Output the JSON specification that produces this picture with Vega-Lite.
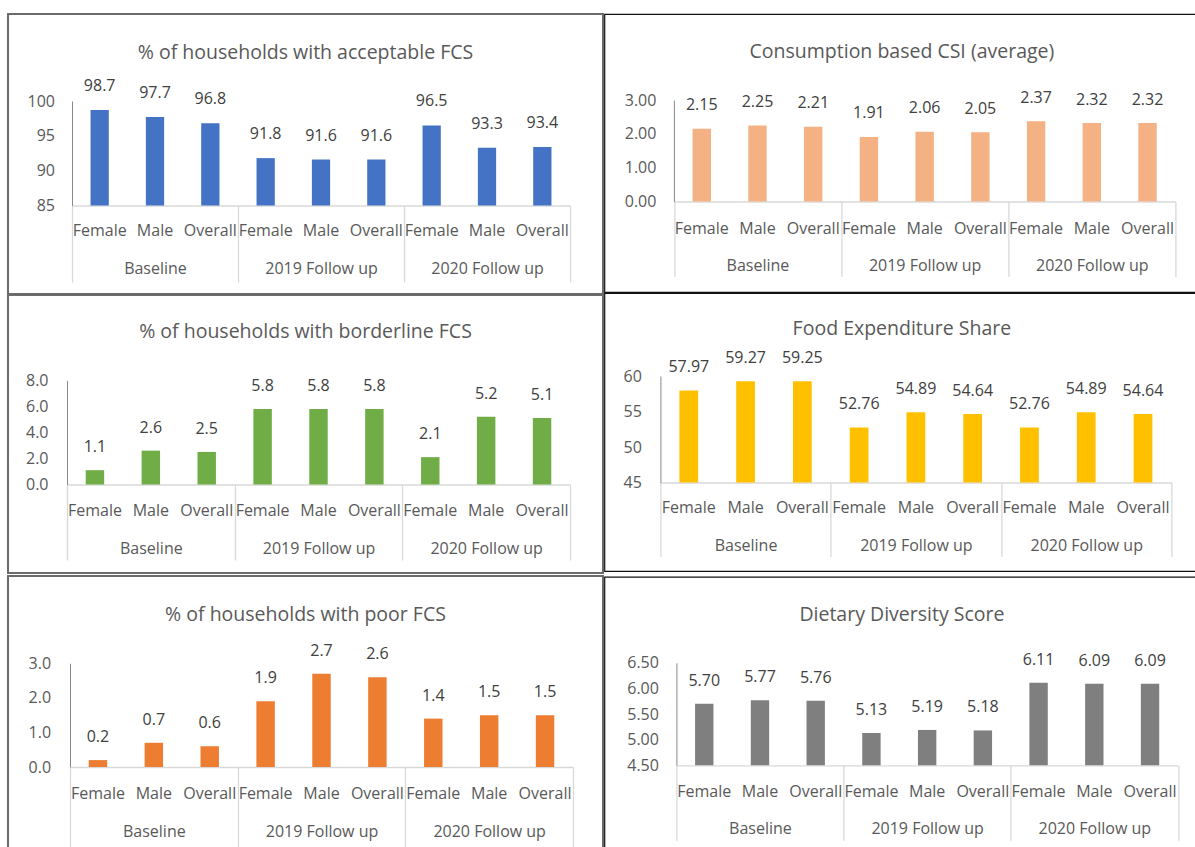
{
  "$schema": "https://vega.github.io/schema/vega-lite/v6.json",
  "padding": {"left": 7, "top": 13, "right": 0, "bottom": 0},
  "background": "white",
  "datasets": {
    "indicators": [
      {"ind": "acceptable", "round": "Baseline", "sex": "Female", "bar": "Baseline|Female", "value": 98.7},
      {"ind": "acceptable", "round": "Baseline", "sex": "Male", "bar": "Baseline|Male", "value": 97.7},
      {"ind": "acceptable", "round": "Baseline", "sex": "Overall", "bar": "Baseline|Overall", "value": 96.8},
      {"ind": "acceptable", "round": "2019 Follow up", "sex": "Female", "bar": "2019 Follow up|Female", "value": 91.8},
      {"ind": "acceptable", "round": "2019 Follow up", "sex": "Male", "bar": "2019 Follow up|Male", "value": 91.6},
      {"ind": "acceptable", "round": "2019 Follow up", "sex": "Overall", "bar": "2019 Follow up|Overall", "value": 91.6},
      {"ind": "acceptable", "round": "2020 Follow up", "sex": "Female", "bar": "2020 Follow up|Female", "value": 96.5},
      {"ind": "acceptable", "round": "2020 Follow up", "sex": "Male", "bar": "2020 Follow up|Male", "value": 93.3},
      {"ind": "acceptable", "round": "2020 Follow up", "sex": "Overall", "bar": "2020 Follow up|Overall", "value": 93.4},

      {"ind": "csi", "round": "Baseline", "sex": "Female", "bar": "Baseline|Female", "value": 2.15},
      {"ind": "csi", "round": "Baseline", "sex": "Male", "bar": "Baseline|Male", "value": 2.25},
      {"ind": "csi", "round": "Baseline", "sex": "Overall", "bar": "Baseline|Overall", "value": 2.21},
      {"ind": "csi", "round": "2019 Follow up", "sex": "Female", "bar": "2019 Follow up|Female", "value": 1.91},
      {"ind": "csi", "round": "2019 Follow up", "sex": "Male", "bar": "2019 Follow up|Male", "value": 2.06},
      {"ind": "csi", "round": "2019 Follow up", "sex": "Overall", "bar": "2019 Follow up|Overall", "value": 2.05},
      {"ind": "csi", "round": "2020 Follow up", "sex": "Female", "bar": "2020 Follow up|Female", "value": 2.37},
      {"ind": "csi", "round": "2020 Follow up", "sex": "Male", "bar": "2020 Follow up|Male", "value": 2.32},
      {"ind": "csi", "round": "2020 Follow up", "sex": "Overall", "bar": "2020 Follow up|Overall", "value": 2.32},

      {"ind": "borderline", "round": "Baseline", "sex": "Female", "bar": "Baseline|Female", "value": 1.1},
      {"ind": "borderline", "round": "Baseline", "sex": "Male", "bar": "Baseline|Male", "value": 2.6},
      {"ind": "borderline", "round": "Baseline", "sex": "Overall", "bar": "Baseline|Overall", "value": 2.5},
      {"ind": "borderline", "round": "2019 Follow up", "sex": "Female", "bar": "2019 Follow up|Female", "value": 5.8},
      {"ind": "borderline", "round": "2019 Follow up", "sex": "Male", "bar": "2019 Follow up|Male", "value": 5.8},
      {"ind": "borderline", "round": "2019 Follow up", "sex": "Overall", "bar": "2019 Follow up|Overall", "value": 5.8},
      {"ind": "borderline", "round": "2020 Follow up", "sex": "Female", "bar": "2020 Follow up|Female", "value": 2.1},
      {"ind": "borderline", "round": "2020 Follow up", "sex": "Male", "bar": "2020 Follow up|Male", "value": 5.2},
      {"ind": "borderline", "round": "2020 Follow up", "sex": "Overall", "bar": "2020 Follow up|Overall", "value": 5.1},

      {"ind": "fes", "round": "Baseline", "sex": "Female", "bar": "Baseline|Female", "value": 57.97},
      {"ind": "fes", "round": "Baseline", "sex": "Male", "bar": "Baseline|Male", "value": 59.27},
      {"ind": "fes", "round": "Baseline", "sex": "Overall", "bar": "Baseline|Overall", "value": 59.25},
      {"ind": "fes", "round": "2019 Follow up", "sex": "Female", "bar": "2019 Follow up|Female", "value": 52.76},
      {"ind": "fes", "round": "2019 Follow up", "sex": "Male", "bar": "2019 Follow up|Male", "value": 54.89},
      {"ind": "fes", "round": "2019 Follow up", "sex": "Overall", "bar": "2019 Follow up|Overall", "value": 54.64},
      {"ind": "fes", "round": "2020 Follow up", "sex": "Female", "bar": "2020 Follow up|Female", "value": 52.76},
      {"ind": "fes", "round": "2020 Follow up", "sex": "Male", "bar": "2020 Follow up|Male", "value": 54.89},
      {"ind": "fes", "round": "2020 Follow up", "sex": "Overall", "bar": "2020 Follow up|Overall", "value": 54.64},

      {"ind": "poor", "round": "Baseline", "sex": "Female", "bar": "Baseline|Female", "value": 0.2},
      {"ind": "poor", "round": "Baseline", "sex": "Male", "bar": "Baseline|Male", "value": 0.7},
      {"ind": "poor", "round": "Baseline", "sex": "Overall", "bar": "Baseline|Overall", "value": 0.6},
      {"ind": "poor", "round": "2019 Follow up", "sex": "Female", "bar": "2019 Follow up|Female", "value": 1.9},
      {"ind": "poor", "round": "2019 Follow up", "sex": "Male", "bar": "2019 Follow up|Male", "value": 2.7},
      {"ind": "poor", "round": "2019 Follow up", "sex": "Overall", "bar": "2019 Follow up|Overall", "value": 2.6},
      {"ind": "poor", "round": "2020 Follow up", "sex": "Female", "bar": "2020 Follow up|Female", "value": 1.4},
      {"ind": "poor", "round": "2020 Follow up", "sex": "Male", "bar": "2020 Follow up|Male", "value": 1.5},
      {"ind": "poor", "round": "2020 Follow up", "sex": "Overall", "bar": "2020 Follow up|Overall", "value": 1.5},

      {"ind": "dds", "round": "Baseline", "sex": "Female", "bar": "Baseline|Female", "value": 5.70},
      {"ind": "dds", "round": "Baseline", "sex": "Male", "bar": "Baseline|Male", "value": 5.77},
      {"ind": "dds", "round": "Baseline", "sex": "Overall", "bar": "Baseline|Overall", "value": 5.76},
      {"ind": "dds", "round": "2019 Follow up", "sex": "Female", "bar": "2019 Follow up|Female", "value": 5.13},
      {"ind": "dds", "round": "2019 Follow up", "sex": "Male", "bar": "2019 Follow up|Male", "value": 5.19},
      {"ind": "dds", "round": "2019 Follow up", "sex": "Overall", "bar": "2019 Follow up|Overall", "value": 5.18},
      {"ind": "dds", "round": "2020 Follow up", "sex": "Female", "bar": "2020 Follow up|Female", "value": 6.11},
      {"ind": "dds", "round": "2020 Follow up", "sex": "Male", "bar": "2020 Follow up|Male", "value": 6.09},
      {"ind": "dds", "round": "2020 Follow up", "sex": "Overall", "bar": "2020 Follow up|Overall", "value": 6.09}
    ]
  },
  "spacing": -0.6,
  "hconcat": [
    {
      "spacing": -2,
      "vconcat": [
        {
          "width": 595, "height": 280,
          "view": {"stroke": "#6b6b6b", "strokeWidth": 2},
          "title": {"text": "% of households with acceptable FCS", "offset": -49},
          "data": {"name": "indicators"},
          "transform": [{"filter": "datum.ind === 'acceptable'"}],
          "resolve": {"scale": {"x": "independent"}, "axis": {"x": "independent"}},
          "layer": [
            {
              "mark": {"type": "bar", "color": "#4472C4", "width": {"band": 0.33}},
              "encoding": {
                "x": {"field": "bar", "type": "nominal", "sort": null,
                      "scale": {"range": [64, 562], "paddingInner": 0, "paddingOuter": 0},
                      "axis": {"orient": "bottom", "offset": -88.5, "title": null, "labelExpr": "split(datum.label, '|')[1]", "labelAngle": 0, "labelPadding": 24.5, "labelBaseline": "middle", "ticks": false, "tickSize": 0, "domain": true, "domainColor": "#D9D9D9", "domainWidth": 1.3, "labelOverlap": false}},
                "y": {"field": "value", "type": "quantitative",
                      "scale": {"domain": [85, 100], "range": [191.5, 87], "zero": false, "nice": false},
                      "axis": {"orient": "left", "offset": -64, "title": null, "values": [85, 90, 95, 100], "format": "d", "labelPadding": 17.5, "ticks": false, "tickSize": 0}},
                "y2": {"datum": 85}
              }
            },
            {
              "mark": {"type": "text", "dy": -24, "fontSize": 16, "color": "#404040", "baseline": "middle"},
              "encoding": {
                "x": {"field": "bar", "type": "nominal", "sort": null, "scale": {"range": [64, 562], "paddingInner": 0, "paddingOuter": 0}, "axis": null},
                "y": {"field": "value", "type": "quantitative"},
                "text": {"field": "value", "format": ".1f"}
              }
            },
            {
              "mark": {"type": "point", "opacity": 0},
              "encoding": {
                "x": {"field": "round", "type": "nominal", "sort": null,
                      "scale": {"range": [64, 562], "paddingInner": 0, "paddingOuter": 0},
                      "axis": {"orient": "bottom", "offset": -88.5, "title": null, "labelAngle": 0, "ticks": true, "tickBand": "extent", "tickSize": 76.5, "tickColor": "#D9D9D9", "tickWidth": 1.3, "labelPadding": -14, "labelBaseline": "middle", "domain": false, "labelOverlap": false}}
              }
            }
          ]
        },
        {
          "spacing": 1,
          "vconcat": [
            {
              "width": 595, "height": 278,
              "view": {"stroke": "#6b6b6b", "strokeWidth": 2},
              "title": {"text": "% of households with borderline FCS", "offset": -47},
              "data": {"name": "indicators"},
              "transform": [{"filter": "datum.ind === 'borderline'"}],
              "resolve": {"scale": {"x": "independent"}, "axis": {"x": "independent"}},
              "layer": [
                {
                  "mark": {"type": "bar", "color": "#70AD47", "width": {"band": 0.33}},
                  "encoding": {
                    "x": {"field": "bar", "type": "nominal", "sort": null,
                          "scale": {"range": [59, 562], "paddingInner": 0, "paddingOuter": 0},
                          "axis": {"orient": "bottom", "offset": -88.5, "title": null, "labelExpr": "split(datum.label, '|')[1]", "labelAngle": 0, "labelPadding": 25.5, "labelBaseline": "middle", "ticks": false, "tickSize": 0, "domain": true, "domainColor": "#D9D9D9", "domainWidth": 1.3, "labelOverlap": false}},
                    "y": {"field": "value", "type": "quantitative",
                          "scale": {"domain": [0, 8], "range": [189.5, 85.3], "zero": false, "nice": false},
                          "axis": {"orient": "left", "offset": -59, "title": null, "values": [0, 2, 4, 6, 8], "format": ".1f", "labelPadding": 19, "ticks": false, "tickSize": 0}},
                    "y2": {"datum": 0}
                  }
                },
                {
                  "mark": {"type": "text", "dy": -23, "fontSize": 16, "color": "#404040", "baseline": "middle"},
                  "encoding": {
                    "x": {"field": "bar", "type": "nominal", "sort": null, "scale": {"range": [59, 562], "paddingInner": 0, "paddingOuter": 0}, "axis": null},
                    "y": {"field": "value", "type": "quantitative"},
                    "text": {"field": "value", "format": ".1f"}
                  }
                },
                {
                  "mark": {"type": "point", "opacity": 0},
                  "encoding": {
                    "x": {"field": "round", "type": "nominal", "sort": null,
                          "scale": {"range": [59, 562], "paddingInner": 0, "paddingOuter": 0},
                          "axis": {"orient": "bottom", "offset": -88.5, "title": null, "labelAngle": 0, "ticks": true, "tickBand": "extent", "tickSize": 75.5, "tickColor": "#D9D9D9", "tickWidth": 1.3, "labelPadding": -11.7, "labelBaseline": "middle", "domain": false, "labelOverlap": false}}
                  }
                }
              ]
            },
            {
              "width": 595, "height": 280,
              "view": {"stroke": "#6b6b6b", "strokeWidth": 2},
              "title": {"text": "% of households with poor FCS", "offset": -49},
              "data": {"name": "indicators"},
              "transform": [{"filter": "datum.ind === 'poor'"}],
              "resolve": {"scale": {"x": "independent"}, "axis": {"x": "independent"}},
              "layer": [
                {
                  "mark": {"type": "bar", "color": "#ED7D31", "width": {"band": 0.33}},
                  "encoding": {
                    "x": {"field": "bar", "type": "nominal", "sort": null,
                          "scale": {"range": [62, 565], "paddingInner": 0, "paddingOuter": 0},
                          "axis": {"orient": "bottom", "offset": -89, "title": null, "labelExpr": "split(datum.label, '|')[1]", "labelAngle": 0, "labelPadding": 26.3, "labelBaseline": "middle", "ticks": false, "tickSize": 0, "domain": true, "domainColor": "#D9D9D9", "domainWidth": 1.3, "labelOverlap": false}},
                    "y": {"field": "value", "type": "quantitative",
                          "scale": {"domain": [0, 3], "range": [191, 87.3], "zero": false, "nice": false},
                          "axis": {"orient": "left", "offset": -62, "title": null, "values": [0, 1, 2, 3], "format": ".1f", "labelPadding": 19.4, "ticks": false, "tickSize": 0}},
                    "y2": {"datum": 0}
                  }
                },
                {
                  "mark": {"type": "text", "dy": -23, "fontSize": 16, "color": "#404040", "baseline": "middle"},
                  "encoding": {
                    "x": {"field": "bar", "type": "nominal", "sort": null, "scale": {"range": [62, 565], "paddingInner": 0, "paddingOuter": 0}, "axis": null},
                    "y": {"field": "value", "type": "quantitative"},
                    "text": {"field": "value", "format": ".1f"}
                  }
                },
                {
                  "mark": {"type": "point", "opacity": 0},
                  "encoding": {
                    "x": {"field": "round", "type": "nominal", "sort": null,
                          "scale": {"range": [62, 565], "paddingInner": 0, "paddingOuter": 0},
                          "axis": {"orient": "bottom", "offset": -89, "title": null, "labelAngle": 0, "ticks": true, "tickBand": "extent", "tickSize": 85, "tickColor": "#D9D9D9", "tickWidth": 1.3, "labelPadding": -20.3, "labelBaseline": "middle", "domain": false, "labelOverlap": false}}
                  }
                }
              ]
            }
          ]
        }
      ]
    },
    {
      "spacing": -1.2,
      "vconcat": [
        {
          "width": 595, "height": 278,
          "view": {"stroke": "#111111", "strokeWidth": 1.2},
          "title": {"text": "Consumption based CSI (average)", "offset": -48.1},
          "data": {"name": "indicators"},
          "transform": [{"filter": "datum.ind === 'csi'"}],
          "resolve": {"scale": {"x": "independent"}, "axis": {"x": "independent"}},
          "layer": [
            {
              "mark": {"type": "bar", "color": "#F4B183", "width": {"band": 0.33}},
              "encoding": {
                "x": {"field": "bar", "type": "nominal", "sort": null,
                      "scale": {"range": [69.5, 571], "paddingInner": 0, "paddingOuter": 0},
                      "axis": {"orient": "bottom", "offset": -90.5, "title": null, "labelExpr": "split(datum.label, '|')[1]", "labelAngle": 0, "labelPadding": 26.5, "labelBaseline": "middle", "ticks": false, "tickSize": 0, "domain": true, "domainColor": "#D9D9D9", "domainWidth": 1.3, "labelOverlap": false}},
                "y": {"field": "value", "type": "quantitative",
                      "scale": {"domain": [0, 3], "range": [187.5, 86], "zero": false, "nice": false},
                      "axis": {"orient": "left", "offset": -69.5, "title": null, "values": [0, 1, 2, 3], "format": ".2f", "labelPadding": 18, "ticks": false, "tickSize": 0}},
                "y2": {"datum": 0}
              }
            },
            {
              "mark": {"type": "text", "dy": -23.5, "fontSize": 16, "color": "#404040", "baseline": "middle"},
              "encoding": {
                "x": {"field": "bar", "type": "nominal", "sort": null, "scale": {"range": [69.5, 571], "paddingInner": 0, "paddingOuter": 0}, "axis": null},
                "y": {"field": "value", "type": "quantitative"},
                "text": {"field": "value", "format": ".2f"}
              }
            },
            {
              "mark": {"type": "point", "opacity": 0},
              "encoding": {
                "x": {"field": "round", "type": "nominal", "sort": null,
                      "scale": {"range": [69.5, 571], "paddingInner": 0, "paddingOuter": 0},
                      "axis": {"orient": "bottom", "offset": -90.5, "title": null, "labelAngle": 0, "ticks": true, "tickBand": "extent", "tickSize": 75, "tickColor": "#D9D9D9", "tickWidth": 1.3, "labelPadding": -11, "labelBaseline": "middle", "domain": false, "labelOverlap": false}}
              }
            }
          ]
        },
        {
          "spacing": 3.8,
          "vconcat": [
            {
              "width": 595, "height": 278,
              "view": {"stroke": "#111111", "strokeWidth": 1.2},
              "title": {"text": "Food Expenditure Share", "offset": -46.3},
              "data": {"name": "indicators"},
              "transform": [{"filter": "datum.ind === 'fes'"}],
              "resolve": {"scale": {"x": "independent"}, "axis": {"x": "independent"}},
              "layer": [
                {
                  "mark": {"type": "bar", "color": "#FFC000", "width": {"band": 0.33}},
                  "encoding": {
                    "x": {"field": "bar", "type": "nominal", "sort": null,
                          "scale": {"range": [56, 567], "paddingInner": 0, "paddingOuter": 0},
                          "axis": {"orient": "bottom", "offset": -88.5, "title": null, "labelExpr": "split(datum.label, '|')[1]", "labelAngle": 0, "labelPadding": 24.5, "labelBaseline": "middle", "ticks": false, "tickSize": 0, "domain": true, "domainColor": "#D9D9D9", "domainWidth": 1.3, "labelOverlap": false}},
                    "y": {"field": "value", "type": "quantitative",
                          "scale": {"domain": [45, 60], "range": [189.5, 83], "zero": false, "nice": false},
                          "axis": {"orient": "left", "offset": -56, "title": null, "values": [45, 50, 55, 60], "format": "d", "labelPadding": 19, "ticks": false, "tickSize": 0}},
                    "y2": {"datum": 45}
                  }
                },
                {
                  "mark": {"type": "text", "dy": -23.5, "fontSize": 16, "color": "#404040", "baseline": "middle"},
                  "encoding": {
                    "x": {"field": "bar", "type": "nominal", "sort": null, "scale": {"range": [56, 567], "paddingInner": 0, "paddingOuter": 0}, "axis": null},
                    "y": {"field": "value", "type": "quantitative"},
                    "text": {"field": "value", "format": ".2f"}
                  }
                },
                {
                  "mark": {"type": "point", "opacity": 0},
                  "encoding": {
                    "x": {"field": "round", "type": "nominal", "sort": null,
                          "scale": {"range": [56, 567], "paddingInner": 0, "paddingOuter": 0},
                          "axis": {"orient": "bottom", "offset": -88.5, "title": null, "labelAngle": 0, "ticks": true, "tickBand": "extent", "tickSize": 74, "tickColor": "#D9D9D9", "tickWidth": 1.3, "labelPadding": -11.5, "labelBaseline": "middle", "domain": false, "labelOverlap": false}}
                  }
                }
              ]
            },
            {
              "width": 595, "height": 280,
              "view": {"stroke": "#111111", "strokeWidth": 1.2},
              "title": {"text": "Dietary Diversity Score", "offset": -48.3},
              "data": {"name": "indicators"},
              "transform": [{"filter": "datum.ind === 'dds'"}],
              "resolve": {"scale": {"x": "independent"}, "axis": {"x": "independent"}},
              "layer": [
                {
                  "mark": {"type": "bar", "color": "#7F7F7F", "width": {"band": 0.33}},
                  "encoding": {
                    "x": {"field": "bar", "type": "nominal", "sort": null,
                          "scale": {"range": [72, 573.5], "paddingInner": 0, "paddingOuter": 0},
                          "axis": {"orient": "bottom", "offset": -91.5, "title": null, "labelExpr": "split(datum.label, '|')[1]", "labelAngle": 0, "labelPadding": 25.8, "labelBaseline": "middle", "ticks": false, "tickSize": 0, "domain": true, "domainColor": "#D9D9D9", "domainWidth": 1.3, "labelOverlap": false}},
                    "y": {"field": "value", "type": "quantitative",
                          "scale": {"domain": [4.5, 6.5], "range": [188.5, 86], "zero": false, "nice": false},
                          "axis": {"orient": "left", "offset": -72, "title": null, "values": [4.5, 5, 5.5, 6, 6.5], "format": ".2f", "labelPadding": 18, "ticks": false, "tickSize": 0}},
                    "y2": {"datum": 4.5}
                  }
                },
                {
                  "mark": {"type": "text", "dy": -23, "fontSize": 16, "color": "#404040", "baseline": "middle"},
                  "encoding": {
                    "x": {"field": "bar", "type": "nominal", "sort": null, "scale": {"range": [72, 573.5], "paddingInner": 0, "paddingOuter": 0}, "axis": null},
                    "y": {"field": "value", "type": "quantitative"},
                    "text": {"field": "value", "format": ".2f"}
                  }
                },
                {
                  "mark": {"type": "point", "opacity": 0},
                  "encoding": {
                    "x": {"field": "round", "type": "nominal", "sort": null,
                          "scale": {"range": [72, 573.5], "paddingInner": 0, "paddingOuter": 0},
                          "axis": {"orient": "bottom", "offset": -91.5, "title": null, "labelAngle": 0, "ticks": true, "tickBand": "extent", "tickSize": 75, "tickColor": "#D9D9D9", "tickWidth": 1.3, "labelPadding": -11.8, "labelBaseline": "middle", "domain": false, "labelOverlap": false}}
                  }
                }
              ]
            }
          ]
        }
      ]
    }
  ],
  "config": {
    "font": "Open Sans",
    "axis": {"labelFont": "Open Sans", "labelFontSize": 16, "labelColor": "#595959", "grid": false, "labelBound": false, "labelFlush": false},
    "title": {"font": "Open Sans", "fontSize": 19.5, "fontWeight": "normal", "color": "#595959", "anchor": "middle", "frame": "group", "baseline": "middle"},
    "text": {"font": "Open Sans"}
  }
}
